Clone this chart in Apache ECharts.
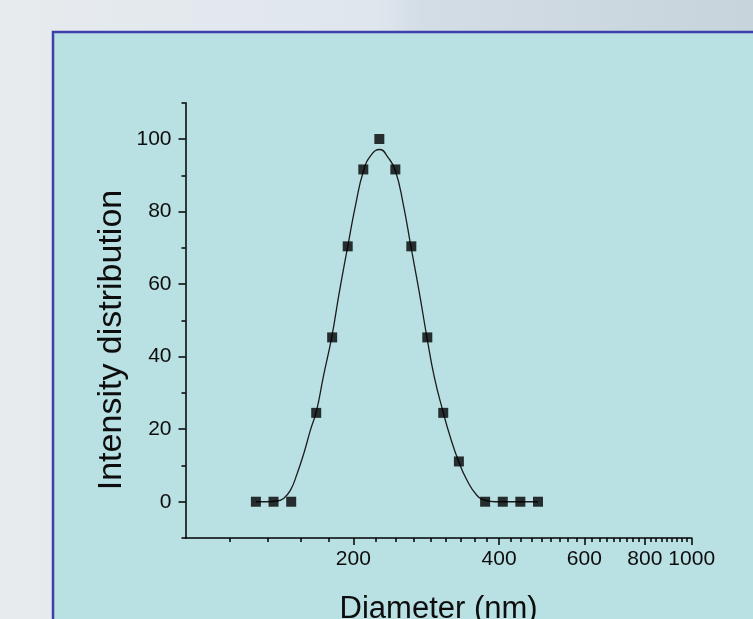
<!DOCTYPE html>
<html>
<head>
<meta charset="utf-8">
<script src="https://cdn.jsdelivr.net/npm/echarts@6/dist/echarts.min.js"></script>
<style>
html,body{margin:0;padding:0;overflow:hidden;background:#e4e9ee;}
#chart{width:753px;height:619px;}
</style>
</head>
<body>
<div id="chart"></div>
<script>
// Measured points (diameter in nm, intensity)
const diameters = [125.8,136.8,148.8,167.6,180.8,194.7,209.7,226.3,244.2,263.5,284.3,306.7,330.4,374.3,407.1,442.6,481.4];
const intensities = [0,0,0,24.5,45.3,70.4,91.6,100,91.6,70.4,45.3,24.5,11.1,0,0,0,0];

// Fitted curve
const fitDiameters = [125.8,132.3,139.4,143.5,148.3,153.1,158.0,163.1,167.8,173.4,180.4,187.1,194.7,201.9,210.0,217.8,226.6,236.2,244.2,253.6,263.0,273.6,283.8,293.8,306.7,317.0,329.8,343.2,359.8,374.3,392.5,442.6,481.4];
const fitIntensities = [0,0,0.2,0.9,3.2,7.8,13.3,19.8,25.0,34.5,45.3,57.8,70.3,81.5,91.3,95.6,97.1,94.8,91.3,82.0,70.3,57.8,45.3,34.5,24.6,17.9,11.2,6.0,1.8,0.4,0,0,0];

// Axis ticks
const xMin = 90, xMax = 1000;
const xMajorTicks = [200,400,600,800,1000];
const xMinorPerInterval = 8;
const yMin = -10, yMax = 110;
const yMajorTicks = [0,20,40,60,80,100];
const yMinorTicks = [-10,10,30,50,70,90,110];

const xStep = (xMajorTicks[1] - xMajorTicks[0]) / (xMinorPerInterval + 1);
const xMinorTicks = [];
for (let k = -20; k <= 60; k++) {
  if (k % (xMinorPerInterval + 1) === 0) continue;
  const v = xMajorTicks[0] + k * xStep;
  if (v > xMin && v < xMax) xMinorTicks.push(+v.toFixed(4));
}

const FONT = '"Liberation Sans", Arial, Helvetica, sans-serif';
const INK = '#0d0d0d';

const chart = echarts.init(document.getElementById('chart'), null, {renderer: 'canvas'});

const axisLineStyle = {color: '#000', width: 1.5};

chart.setOption({
  animation: false,
  backgroundColor: 'transparent',
  graphic: [
    {
      type: 'rect', z: -20, silent: true,
      shape: {x: 0, y: 0, width: 753, height: 619},
      style: {
        fill: new echarts.graphic.LinearGradient(0, 0, 1, 0, [
          {offset: 0, color: '#e7ebee'},
          {offset: 0.5, color: '#dfe6ee'},
          {offset: 0.56, color: '#d3dde5'},
          {offset: 1, color: '#c7d4dc'}
        ])
      }
    },
    {
      type: 'rect', z: -10, silent: true,
      shape: {x: 53, y: 32, width: 760, height: 650},
      style: {fill: '#b9e0e3', stroke: '#3d40aa', lineWidth: 2.5}
    },
    {
      type: 'text', z: 10, silent: true,
      x: 112, y: 340, rotation: Math.PI / 2,
      style: {
        text: 'Intensity distribution',
        fontSize: 34, fontFamily: FONT, fill: INK,
        align: 'center', verticalAlign: 'middle',
        textAlign: 'center', textVerticalAlign: 'middle'
      }
    }
  ],
  grid: {left: 185.5, top: 102.7, width: 506.2, height: 435.3, containLabel: false, outerBoundsMode: 'none'},
  xAxis: [
    {
      type: 'log', logBase: 10, min: xMin, max: xMax, position: 'bottom',
      axisLine: {show: true, onZero: false, lineStyle: axisLineStyle},
      axisTick: {show: true, customValues: xMajorTicks, length: 7, lineStyle: axisLineStyle},
      axisLabel: {show: true, customValues: xMajorTicks, fontSize: 21, fontFamily: FONT, color: INK, margin: 11, hideOverlap: false,
        formatter: v => String(Math.round(v))},
      splitLine: {show: false}, minorTick: {show: false}, minorSplitLine: {show: false},
      name: 'Diameter (nm)', nameLocation: 'middle', nameGap: 56,
      nameTextStyle: {fontSize: 31, fontFamily: FONT, color: INK}
    },
    {
      type: 'log', logBase: 10, min: xMin, max: xMax, position: 'bottom', offset: 0,
      axisLine: {show: false, onZero: false},
      axisTick: {show: true, customValues: xMinorTicks, length: 4, lineStyle: axisLineStyle},
      axisLabel: {show: false},
      splitLine: {show: false}
    }
  ],
  yAxis: [
    {
      type: 'value', min: yMin, max: yMax, position: 'left',
      axisLine: {show: true, onZero: false, lineStyle: axisLineStyle},
      axisTick: {show: true, customValues: yMajorTicks, length: 7, lineStyle: axisLineStyle},
      axisLabel: {show: true, customValues: yMajorTicks, fontSize: 21, fontFamily: FONT, color: INK, margin: 14, hideOverlap: false},
      splitLine: {show: false}
    },
    {
      type: 'value', min: yMin, max: yMax, position: 'left', offset: 0,
      axisLine: {show: false, onZero: false},
      axisTick: {show: true, customValues: yMinorTicks, length: 4, lineStyle: axisLineStyle},
      axisLabel: {show: false},
      splitLine: {show: false}
    }
  ],
  series: [
    {
      type: 'line', name: 'fit', xAxisIndex: 0, yAxisIndex: 0,
      data: fitDiameters.map((d, i) => [d, fitIntensities[i]]),
      smooth: 0.5,
      showSymbol: false, silent: true, z: 2,
      lineStyle: {color: '#1c1c1c', width: 1.3}
    },
    {
      type: 'scatter', name: 'data', xAxisIndex: 0, yAxisIndex: 0,
      data: diameters.map((d, i) => [d, intensities[i]]),
      symbol: 'rect', symbolSize: 10, silent: true, z: 3,
      itemStyle: {color: '#000'}
    }
  ]
});
</script>
</body>
</html>
